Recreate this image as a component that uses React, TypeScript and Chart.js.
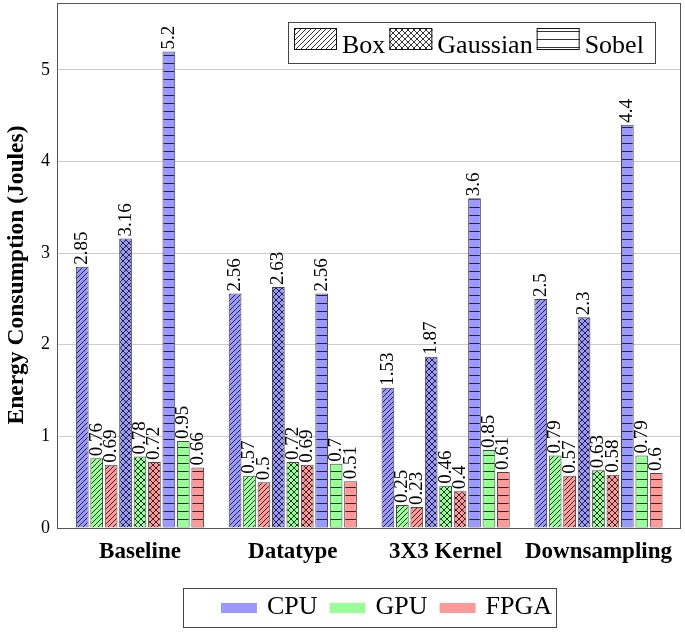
import { useEffect, useRef } from "react";
import { Chart, registerables } from "chart.js";

Chart.register(...registerables);

const categories = ["Baseline", "Datatype", "3X3 Kernel", "Downsampling"];
const filters = ["Box", "Gaussian", "Sobel"];
const devices = ["CPU", "GPU", "FPGA"];

const boxCPU = [2.85, 2.56, 1.53, 2.5];
const boxGPU = [0.76, 0.57, 0.25, 0.79];
const boxFPGA = [0.69, 0.5, 0.23, 0.57];
const gaussianCPU = [3.16, 2.63, 1.87, 2.3];
const gaussianGPU = [0.78, 0.72, 0.46, 0.63];
const gaussianFPGA = [0.72, 0.69, 0.4, 0.58];
const sobelCPU = [5.2, 2.56, 3.6, 4.4];
const sobelGPU = [0.95, 0.7, 0.85, 0.79];
const sobelFPGA = [0.66, 0.51, 0.61, 0.6];

const yTicks = [0, 1, 2, 3, 4, 5];
const yMax = 5.73;
const yTitle = "Energy Consumption (Joules)";

const seriesValues = [
  [boxCPU, boxGPU, boxFPGA],
  [gaussianCPU, gaussianGPU, gaussianFPGA],
  [sobelCPU, sobelGPU, sobelFPGA],
];

const deviceColors = ["#9999ff", "#99ff99", "#ff9999"];
const filterPatterns = ["diag", "cross", "horiz"];

const SERIF = '"Liberation Serif", "Times New Roman", serif';

function makePattern(kind: string, bg: string): CanvasPattern {
  const s = kind === "horiz" ? 8 : kind === "diag" ? 5 : 6;
  const c = document.createElement("canvas");
  c.width = s;
  c.height = s;
  const g = c.getContext("2d")!;
  g.fillStyle = bg;
  g.fillRect(0, 0, s, s);
  g.strokeStyle = "#111";
  g.lineWidth = 0.85;
  g.beginPath();
  if (kind === "diag" || kind === "cross") {
    g.moveTo(-1, s + 1);
    g.lineTo(s + 1, -1);
    g.moveTo(-1, 1);
    g.lineTo(1, -1);
    g.moveTo(s - 1, s + 1);
    g.lineTo(s + 1, s - 1);
  }
  if (kind === "cross") {
    g.moveTo(-1, -1);
    g.lineTo(s + 1, s + 1);
    g.moveTo(s - 1, -1);
    g.lineTo(s + 1, 1);
    g.moveTo(-1, s - 1);
    g.lineTo(1, s + 1);
  }
  if (kind === "horiz") {
    g.moveTo(0, s - 0.5);
    g.lineTo(s, s - 0.5);
  }
  g.stroke();
  return g.createPattern(c, "repeat")!;
}

export default function App() {
  const ref = useRef<HTMLCanvasElement | null>(null);

  useEffect(() => {
    const canvas = ref.current;
    if (!canvas) return;

    const datasets: any[] = [];
    filters.forEach((f, fi) => {
      devices.forEach((d, di) => {
        const vals = seriesValues[fi][di];
        datasets.push({
          label: `${f} ${d}`,
          data: vals.map((v, i) => ({ x: i, y: v })),
          backgroundColor: makePattern(filterPatterns[fi], deviceColors[di]),
          borderColor: "#444",
          borderWidth: 1,
          categoryPercentage: 0.85,
          barPercentage: 0.88,
        });
      });
    });

    const decor = {
      id: "decor",
      afterDraw(chart: any) {
        const ctx = chart.ctx as CanvasRenderingContext2D;
        const a = chart.chartArea;
        ctx.save();
        // frame
        ctx.strokeStyle = "#555";
        ctx.lineWidth = 1;
        ctx.strokeRect(Math.round(a.left) + 0.5, Math.round(a.top) + 0.5, Math.round(a.right - a.left) - 1, Math.round(a.bottom - a.top));

        // value labels
        ctx.fillStyle = "#000";
        ctx.font = `19px ${SERIF}`;
        ctx.textAlign = "left";
        ctx.textBaseline = "middle";
        chart.data.datasets.forEach((ds: any, i: number) => {
          const meta = chart.getDatasetMeta(i);
          meta.data.forEach((el: any, j: number) => {
            const v = ds.data[j].y;
            ctx.save();
            ctx.translate(el.x, el.y - 2);
            ctx.rotate(-Math.PI / 2);
            ctx.fillText(String(v), 0, 0);
            ctx.restore();
          });
        });

        // y title
        ctx.save();
        ctx.font = `bold 23.5px ${SERIF}`;
        ctx.fillStyle = "#000";
        ctx.textAlign = "center";
        ctx.textBaseline = "middle";
        ctx.translate(17, 275);
        ctx.rotate(-Math.PI / 2);
        ctx.fillText(yTitle, 0, 0);
        ctx.restore();

        // top legend (filters)
        const tl = { x: a.left + 231, y: a.top + 19, w: 367, h: 41 };
        ctx.fillStyle = "#fff";
        ctx.fillRect(tl.x, tl.y, tl.w, tl.h);
        ctx.strokeStyle = "#444";
        ctx.strokeRect(tl.x + 0.5, tl.y + 0.5, tl.w, tl.h);
        ctx.font = `26px ${SERIF}`;
        ctx.textBaseline = "alphabetic";
        ctx.textAlign = "left";
        let x = tl.x + 6;
        filters.forEach((f, fi) => {
          const sw = 43,
            sh = 22;
          const sy = tl.y + 6;
          ctx.fillStyle = makePattern(filterPatterns[fi], "#ffffff");
          ctx.fillRect(x, sy, sw, sh);
          ctx.strokeStyle = "#111";
          ctx.strokeRect(x + 0.5, sy + 0.5, sw - 1, sh - 1);
          ctx.fillStyle = "#000";
          ctx.fillText(f, x + sw + 5, tl.y + 31);
          x += sw + 5 + ctx.measureText(f).width + 4;
        });

        // bottom legend (devices)
        const bl = { x: 183, y: 588, w: 373, h: 39 };
        ctx.fillStyle = "#fff";
        ctx.fillRect(bl.x, bl.y, bl.w, bl.h);
        ctx.strokeStyle = "#444";
        ctx.strokeRect(bl.x + 0.5, bl.y + 0.5, bl.w, bl.h);
        ctx.font = `26px ${SERIF}`;
        x = bl.x + 38;
        devices.forEach((d, di) => {
          ctx.fillStyle = deviceColors[di];
          ctx.fillRect(x, bl.y + 15, 36, 10);
          ctx.fillStyle = "#000";
          ctx.fillText(d, x + 46, bl.y + 26);
          x += 46 + ctx.measureText(d).width + 12;
        });
        ctx.restore();
      },
    };

    const chart = new Chart(canvas, {
      type: "bar",
      data: { datasets },
      options: {
        animation: false,
        responsive: false,
        layout: { autoPadding: false, padding: { top: 3, right: 4, left: 0, bottom: 0 } },
        plugins: { legend: { display: false }, tooltip: { enabled: false } },
        scales: {
          x: {
            type: "linear",
            offset: false,
            min: -0.543,
            max: 3.54,
            grid: { display: false, drawTicks: false, offset: false },
            border: { display: false },
            afterBuildTicks: (s: any) => {
              s.ticks = categories.map((_, i) => ({ value: i }));
            },
            afterFit: (s: any) => {
              s.height = 104;
              s.paddingLeft = 0;
              s.paddingRight = 0;
              s.paddingTop = 0;
              s.paddingBottom = 0;
            },
            ticks: {
              autoSkip: false,
              maxRotation: 0,
              padding: 10,
              color: "#000",
              font: { family: SERIF, size: 23, weight: "bold" },
              callback: (v: any) => categories[Math.round(Number(v))] ?? "",
            },
          },
          y: {
            min: 0,
            max: yMax,
            grid: { color: "#cccccc", drawTicks: false },
            border: { display: false },
            afterBuildTicks: (s: any) => {
              s.ticks = yTicks.map((v) => ({ value: v }));
            },
            afterFit: (s: any) => {
              s.width = 57;
              s.paddingLeft = 0;
              s.paddingRight = 0;
              s.paddingTop = 0;
              s.paddingBottom = 0;
            },
            ticks: {
              padding: 7,
              color: "#000",
              font: { family: SERIF, size: 18 },
              callback: (v: any) => String(v),
            },
          },
        },
      } as any,
      plugins: [decor],
    });

    return () => chart.destroy();
  }, []);

  return (
    <div style={{ position: "absolute", left: 0, top: 0, width: 685, height: 632, background: "#fff" }}>
      <canvas ref={ref} width={685} height={632} style={{ width: 685, height: 632, display: "block" }} />
    </div>
  );
}
